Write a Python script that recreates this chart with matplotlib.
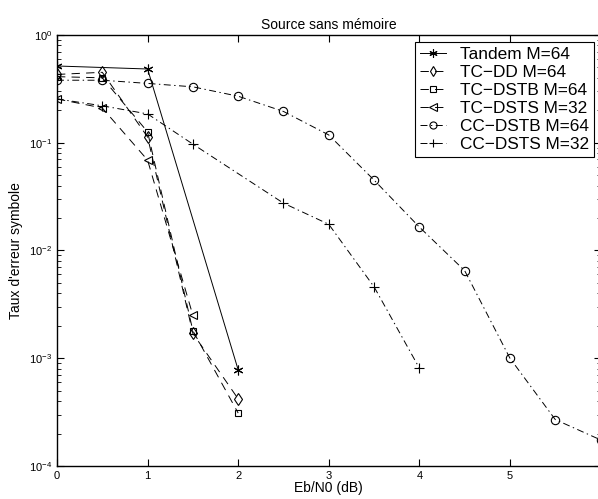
import numpy as np
import matplotlib
matplotlib.use("Agg")
import matplotlib.pyplot as plt

plt.rcParams['font.family'] = ['Liberation Sans', 'DejaVu Sans']
plt.rcParams['lines.scale_dashes'] = False

# data (Eb/N0 in dB, symbol error rate)
x_tandem = [0, 1, 2]
y_tandem = [0.515, 0.483, 7.8e-4]

x_tcdd = [0, 0.5, 1, 1.5, 2]
y_tcdd = [0.43, 0.45, 0.113, 1.7e-3, 4.2e-4]

x_tcdstb = [0, 0.5, 1, 1.5, 2]
y_tcdstb = [0.41, 0.40, 0.126, 1.8e-3, 3.1e-4]

x_tcdsts = [0, 0.5, 1, 1.5]
y_tcdsts = [0.255, 0.21, 0.069, 2.5e-3]

x_ccdstb = [0, 0.5, 1, 1.5, 2, 2.5, 3, 3.5, 4, 4.5, 5, 5.5, 6]
y_ccdstb = [0.38, 0.38, 0.355, 0.33, 0.27, 0.195, 0.118, 0.045, 0.0165, 0.0065, 1.0e-3, 2.7e-4, 1.75e-4]

x_ccdsts = [0, 0.5, 1, 1.5, 2.5, 3, 3.5, 4]
y_ccdsts = [0.255, 0.22, 0.185, 0.097, 0.0275, 0.0175, 4.6e-3, 8.1e-4]

fig = plt.figure(figsize=(5.98, 4.99), dpi=100)
ax = fig.add_axes([0.0953, 0.066, 0.909, 0.864])

lw = 0.7
dash = (0, (6, 4.5))
dashdot = (0, (5, 2.5, 1, 2.5))
asterisk = (6, 2, 0)
ax.semilogy(x_tandem, y_tandem, color='k', ls='-', marker=asterisk, lw=lw, ms=7, mew=0.8, label='Tandem M=64')
ax.semilogy(x_tcdd, y_tcdd, color='k', ls=dash, marker='d', lw=lw, ms=6, mew=0.8, mfc='none', label='TC\u2212DD M=64')
ax.semilogy(x_tcdstb, y_tcdstb, color='k', ls=dash, marker='s', lw=lw, ms=5, mew=0.8, mfc='none', label='TC\u2212DSTB M=64')
ax.semilogy(x_tcdsts, y_tcdsts, color='k', ls=dash, marker='<', lw=lw, ms=6, mew=0.8, mfc='none', label='TC\u2212DSTS M=32')
ax.semilogy(x_ccdstb, y_ccdstb, color='k', ls=dashdot, marker='o', lw=lw, ms=6, mew=0.8, mfc='none', label='CC\u2212DSTB M=64')
ax.semilogy(x_ccdsts, y_ccdsts, color='k', ls=dashdot, marker='+', lw=lw, ms=7, mew=0.8, label='CC\u2212DSTS M=32')

ax.set_xlim(0, 6)
ax.set_ylim(1e-4, 1)
ax.set_xticks([0, 1, 2, 3, 4, 5, 6])
ax.tick_params(which='both', direction='in', top=True, right=True, labelsize=8)
ax.tick_params(which='major', length=5)
ax.tick_params(which='minor', length=3)
for s in ax.spines.values():
    s.set_linewidth(1.0)

ax.set_title('Source sans m\u00e9moire', fontsize=10, pad=4)
ax.set_xlabel('Eb/N0 (dB)', fontsize=10, labelpad=0)
ax.set_ylabel("Taux d'erreur symbole", fontsize=10)

leg = ax.legend(loc='upper right', bbox_to_anchor=(0.988, 0.983), fontsize=12.4,
                fancybox=False, edgecolor='k', framealpha=1, handlelength=1.5,
                borderpad=0.3, labelspacing=0.16, handletextpad=0.8, borderaxespad=0,
                markerscale=0.85)
leg.get_frame().set_linewidth(0.8)

fig.savefig('out.png', dpi=100)
